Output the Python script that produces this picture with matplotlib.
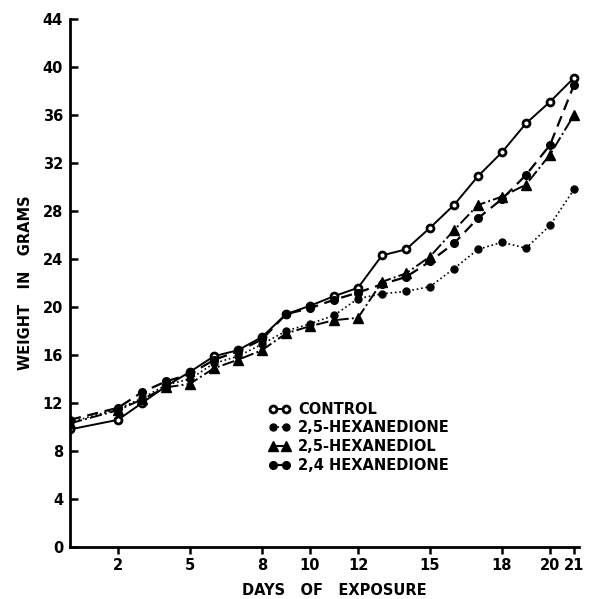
import matplotlib
matplotlib.use("Agg")
import matplotlib.pyplot as plt

days = [0, 2, 3, 4, 5, 6, 7, 8, 9, 10, 11, 12, 13, 14, 15, 16, 17, 18, 19, 20, 21]
control = [9.8, 10.6, 12.0, 13.4, 14.6, 15.9, 16.4, 17.5, 19.4, 20.1, 20.9, 21.6,
           24.3, 24.8, 26.6, 28.5, 30.9, 32.9, 35.3, 37.1, 39.1]
hexanedione25 = [10.4, 11.5, 12.4, 13.5, 14.0, 15.3, 15.9, 16.9, 18.0, 18.6, 19.3, 20.7,
                 21.1, 21.3, 21.7, 23.2, 24.8, 25.4, 24.9, 26.8, 29.8]
hexanediol25 = [10.3, 11.4, 12.3, 13.3, 13.6, 14.9, 15.6, 16.4, 17.8, 18.4, 18.9, 19.1,
                22.1, 22.8, 24.2, 26.4, 28.5, 29.2, 30.2, 32.7, 36.0]
hexanedione24 = [10.6, 11.6, 12.9, 13.8, 14.4, 15.6, 16.3, 17.3, 19.4, 19.9, 20.6, 21.2,
                 21.9, 22.5, 23.8, 25.3, 27.4, 29.0, 31.0, 33.5, 38.5]

labels = ["CONTROL", "2,5-HEXANEDIONE", "2,5-HEXANEDIOL", "2,4 HEXANEDIONE"]
xticks = [2, 5, 8, 10, 12, 15, 18, 20, 21]
yticks = [0, 4, 8, 12, 16, 20, 24, 28, 32, 36, 40, 44]

plt.rcParams['font.family'] = ['DejaVu Sans']
plt.rcParams['font.weight'] = 'bold'

fig = plt.figure(figsize=(5.89, 5.99), dpi=100)
ax = fig.add_axes([70/589, 52/599, (578.8-70)/589, 528/599])

ax.plot(days, control, '-', color='black', lw=1.4, marker='o', ms=5,
        mfc='white', mec='black', mew=2.0, label=labels[0])
ax.plot(days, hexanedione25, ':', color='black', lw=1.2, marker='o', ms=5,
        mfc='black', mec='black', label=labels[1])
ax.plot(days, hexanediol25, '-.', color='black', lw=1.4, marker='^', ms=6.5,
        mfc='black', mec='black', label=labels[2])
ax.plot(days, hexanedione24, '--', color='black', lw=1.6, marker='o', ms=5.5,
        mfc='black', mec='black', dashes=(5, 3), label=labels[3])

ax.set_xlim(0, 21.2)
ax.set_ylim(0, 44)
ax.set_xticks(xticks)
ax.set_yticks(yticks)
ax.spines['top'].set_visible(False)
ax.spines['right'].set_visible(False)
ax.spines['left'].set_linewidth(2)
ax.spines['bottom'].set_linewidth(2)
ax.tick_params(axis='y', direction='in', length=6, width=1.8, pad=5, labelsize=10.5)
ax.tick_params(axis='x', direction='out', length=5, width=1.8, pad=3, labelsize=10.5)
for t in ax.get_xticklabels() + ax.get_yticklabels():
    t.set_fontweight('bold')

ax.set_xlabel("DAYS   OF   EXPOSURE", fontsize=10.5, fontweight='bold')
ax.set_ylabel("WEIGHT   IN   GRAMS", fontsize=10.5, fontweight='bold')
ax.xaxis.set_label_coords(0.52, -0.068)
ax.yaxis.set_label_coords(-0.072, 0.50)

leg = ax.legend(loc='upper left', bbox_to_anchor=(0.365, 0.30), frameon=False,
                numpoints=2, handlelength=1.5, handletextpad=0.5, labelspacing=0.25,
                prop={'size': 10.5, 'weight': 'bold'})

fig.savefig("out.png", dpi=100)
